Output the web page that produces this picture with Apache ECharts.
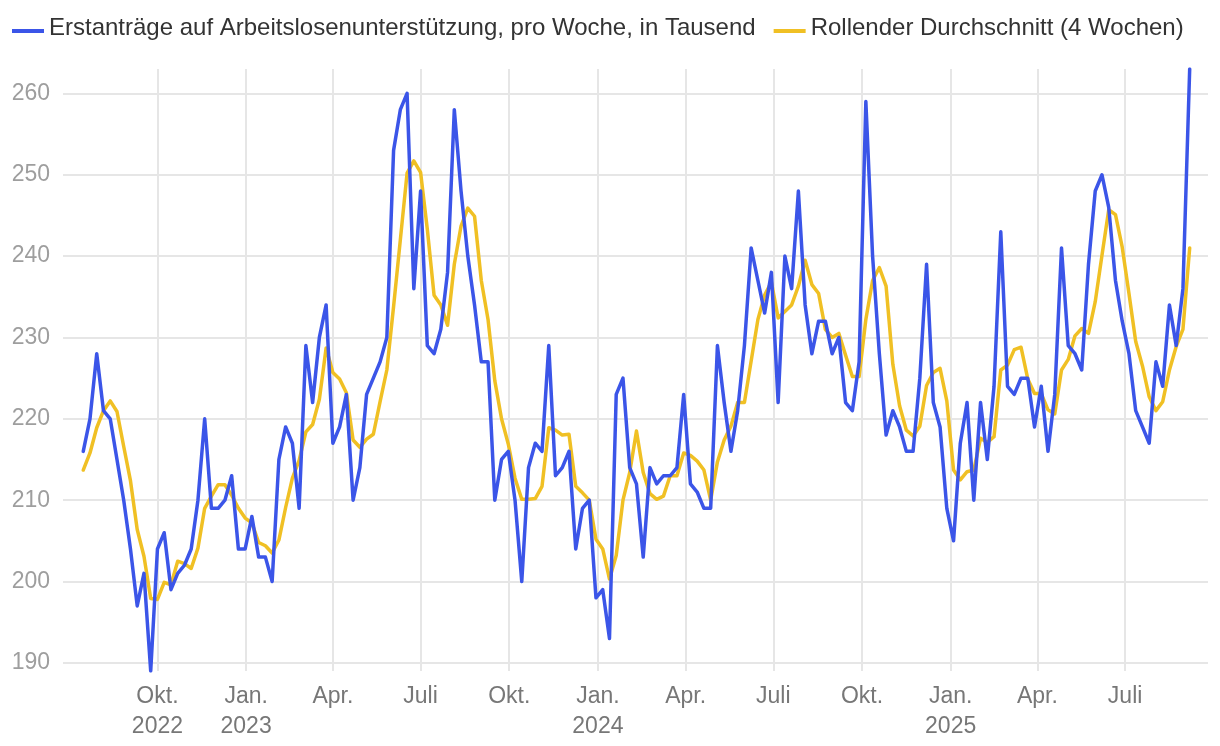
<!DOCTYPE html>
<html>
<head>
<meta charset="utf-8">
<script src="https://cdn.jsdelivr.net/npm/echarts@6/dist/echarts.min.js"></script>
<style>
  html, body { margin: 0; padding: 0; background: #ffffff; }
  #chart { width: 1220px; height: 746px; }
</style>
</head>
<body>
<div id="chart"></div>
<script>
// ---- Data (weekly, week ending Saturday; first week ends 2022-07-16) ----
const firstWeekEnding = [2022, 6, 16]; // year, monthIndex, day

const claims2022 = [216,220,228,221,220,215,210,204,197,201,189,204,206,199,201,202,204,210,220,209,209,210,213,204,204];
const claims2023 = [208,203,203,200,215,219,217,209,229,222,230,234,217,219,223,210,214,223,225,227,230,253,258,260,236,248,229,228,231,238,258,248,240,234,227,227,210,215,216,210,200,214,217,216,229,213,214,216,204,209,210,198];
const claims2024 = [199,193,223,225,214,212,203,214,212,213,213,214,223,212,211,209,209,229,222,216,221,229,241,237,233,238,222,240,236,248,234,228,232,232,228,230,222,221,227,259,240,228,218,221,219,216,216,225,239,222,219,209];
const claims2025 = [205,217,222,210,222,215,224,243,224,223,225,225,219,224,216,223,241,229,228,226,239,248,250,246,237,232,228,221,219,217,227,224,234,229,236,263];

const avg2022 = [213.7,215.8,218.9,221,222.2,220.9,216.6,212.4,206.4,203.1,197.9,197.8,199.9,199.6,202.5,202.2,201.6,204.1,209,210.5,211.9,211.9,210.6,209,207.8];
const avg2023 = [207.2,204.8,204.4,203.5,205.1,209.1,212.7,214.9,218.4,219.3,222.4,228.7,225.7,224.9,223.2,217.4,216.5,217.5,218.1,222.1,226,233.8,242,250.2,251.7,250.3,243.3,235.2,234,231.5,239,243.7,245.9,244.9,237,232.2,224.7,220,216.9,212.7,210.1,210.1,210.2,211.7,218.9,218.6,218,218.1,211.7,210.9,210,205.2];
const avg2024 = [204,200.3,203.2,210,213.4,218.5,213.4,210.8,210.1,210.5,213,213,215.8,215.5,214.8,213.7,210,214.7,217.4,219.1,222,222,227.1,232.2,235.2,236.8,232.4,233.2,234,236.3,239.5,236.5,235.4,231,230,230.5,227.8,225.2,225.2,232.2,237,238.6,236.3,226.7,221.6,218.6,217.9,219.1,224.1,225.7,226.2,222.2];
const avg2025 = [213.7,212.5,213.5,213.7,217.6,217.1,217.8,226,226.6,228.5,228.8,224.9,223.1,223.1,221.1,220.6,226,227.3,230.2,231.1,230.5,234.4,240.1,245.7,245.1,241.1,235.4,229.5,226.5,222.7,221,222.1,226,228.9,231,241];

const quarterTicks = ['2022-10-01','2023-01-01','2023-04-01','2023-07-01','2023-10-01','2024-01-01','2024-04-01','2024-07-01','2024-10-01','2025-01-01','2025-04-01','2025-07-01'];
const monthNames = {0: 'Jan.', 3: 'Apr.', 6: 'Juli', 9: 'Okt.'};
const seriesNames = ['Erstanträge auf Arbeitslosenunterstützung, pro Woche, in Tausend', 'Rollender Durchschnitt (4 Wochen)'];
const xRange = ['2022-06-25', '2025-09-25'];
const yRange = [189, 263];

// ---- Build ----
const claims = [].concat(claims2022, claims2023, claims2024, claims2025);
const avg = [].concat(avg2022, avg2023, avg2024, avg2025);
const weeks = claims.map((_, i) => new Date(firstWeekEnding[0], firstWeekEnding[1], firstWeekEnding[2] + 7 * i).getTime());
const firstTs = weeks[0];

const BLUE = '#3b55e8';
const YELLOW = '#f0c024';
const GRID = '#e6e6e6';
const FONT = '"Liberation Sans", Arial, Helvetica, sans-serif';
const LEGEND_ICON = 'path://M0,0 M0,6 L32,6 L32,10 L0,10 Z';

const chart = echarts.init(document.getElementById('chart'), null, {renderer: 'canvas'});
chart.setOption({
  animation: false,
  textStyle: {fontFamily: FONT},
  legend: {
    top: 11, left: 7,
    itemWidth: 32, itemHeight: 10, itemGap: 18,
    icon: LEGEND_ICON,
    textStyle: {fontSize: 24, color: '#333333', fontFamily: FONT},
    data: seriesNames,
    selectedMode: false
  },
  grid: {left: 63, right: 12, top: 69, bottom: 75, containLabel: false},
  xAxis: {
    type: 'time',
    min: xRange[0], max: xRange[1],
    splitNumber: 12,
    axisLine: {show: false},
    axisTick: {show: false},
    splitLine: {show: false},
    axisLabel: {
      fontSize: 23, color: '#777777', lineHeight: 30, margin: 11, fontFamily: FONT,
      hideOverlap: false,
      formatter: function (value) {
        const d = new Date(value);
        const m = d.getMonth();
        if (d.getDate() !== 1 || !(m in monthNames) || value < firstTs) return '';
        const showYear = m === 0 || (value - firstTs) < 100 * 86400000;
        return monthNames[m] + (showYear ? '\n' + d.getFullYear() : '');
      }
    }
  },
  yAxis: {
    type: 'value',
    min: yRange[0], max: yRange[1],
    splitNumber: 7,
    axisLine: {show: false},
    axisTick: {show: false},
    axisLabel: {fontSize: 23, color: '#9e9e9e', margin: 13, showMinLabel: false, showMaxLabel: false, fontFamily: FONT},
    splitLine: {show: true, showMinLine: false, showMaxLine: false, lineStyle: {color: GRID, width: 2}}
  },
  series: [
    {
      name: seriesNames[0], type: 'line',
      data: weeks.map((t, i) => [t, claims[i]]),
      symbol: 'none', showSymbol: false, z: 4,
      lineStyle: {width: 3.5, color: BLUE, join: 'round', cap: 'round'},
      itemStyle: {color: BLUE}
    },
    {
      name: seriesNames[1], type: 'line',
      data: weeks.map((t, i) => [t, avg[i]]),
      symbol: 'none', showSymbol: false, z: 3,
      lineStyle: {width: 3.5, color: YELLOW, join: 'round', cap: 'round'},
      itemStyle: {color: YELLOW},
      markLine: {
        silent: true, symbol: 'none', z: 1, animation: false,
        label: {show: false},
        emphasis: {disabled: true},
        lineStyle: {color: GRID, width: 2, type: 'solid'},
        data: quarterTicks.map(q => ({xAxis: q}))
      }
    }
  ]
});
</script>
</body>
</html>
